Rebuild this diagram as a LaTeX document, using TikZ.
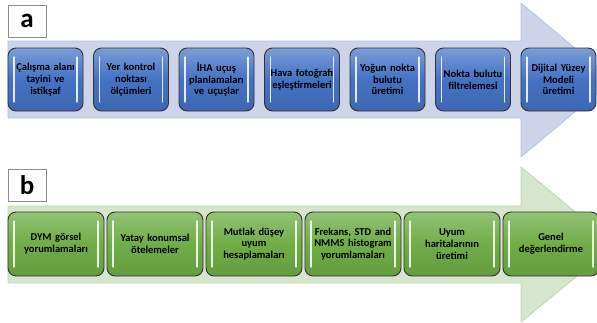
\documentclass[tikz,border=0pt]{standalone}
\usepackage{fontspec}
\setmainfont{Carlito}
\definecolor{arrowA}{RGB}{205,212,234}
\definecolor{arrowAline}{RGB}{180,194,230}
\definecolor{arrowB}{RGB}{214,230,206}
\definecolor{arrowBline}{RGB}{185,215,168}
\definecolor{boxBlue}{RGB}{68,114,196}
\definecolor{boxGreen}{RGB}{112,173,71}
\definecolor{boxEdge}{RGB}{50,50,50}
\tikzset{
	stepbox/.style={draw=boxEdge, line width=0.9pt, rounded corners=8pt, inner sep=0pt, align=center, font=\bfseries\fontsize{10.5}{11.8}\selectfont,
		path picture={
			\draw[white, line width=1.3pt, opacity=0.85, line cap=round] ([xshift=6pt,yshift=-9pt]path picture bounding box.north west) -- ([xshift=6pt,yshift=9pt]path picture bounding box.south west);
			\draw[white, line width=1.3pt, opacity=0.85, line cap=round] ([xshift=-6pt,yshift=-9pt]path picture bounding box.north east) -- ([xshift=-6pt,yshift=9pt]path picture bounding box.south east);
		}},
	bluebox/.style={stepbox, top color=boxBlue!70!white, bottom color=boxBlue!90!black, middle color=boxBlue, minimum width=75pt, minimum height=63pt, text width=73pt},
	greenbox/.style={stepbox, top color=boxGreen!75!white, bottom color=boxGreen!90!black, middle color=boxGreen, minimum width=96pt, minimum height=64pt, text width=94pt},
	tag/.style={draw=black!45, line width=0.8pt, fill=white, minimum width=38pt, minimum height=32pt, inner sep=0pt, font=\bfseries\fontsize{27}{27}\selectfont}
}
\begin{document}
\begin{tikzpicture}[x=1pt, y=-1pt]
	\useasboundingbox (0,0) rectangle (597,322);
	\clip (0,0) rectangle (597,322);
	% band arrows
	\draw[arrowAline, fill=arrowA, line width=0.8pt] (8,41) -- (521,41) -- (521,3) -- (613,80) -- (521,157) -- (521,118) -- (8,118) -- cycle;
	\draw[arrowBline, fill=arrowB, line width=0.8pt] (8,206) -- (521,206) -- (521,167) -- (615,245) -- (521,322) -- (521,283) -- (8,283) -- cycle;
	% tags
	\node[tag] (taga) at (27,21) {a};
	\node[tag] (tagb) at (27,185.5) {b};
	% a steps
	\node[bluebox] (a1) at (45.5,79.5) {Çalışma alanı\\tayini ve\\istikşaf};
	\node[bluebox] (a2) at (131,79.5) {Yer kontrol\\noktası\\ölçümleri};
	\node[bluebox] (a3) at (216.5,79.5) {İHA uçuş\\planlamaları\\ve uçuşlar};
	\node[bluebox] (a4) at (302,79.5) {Hava fotoğrafı\\eşleştirmeleri};
	\node[bluebox] (a5) at (387.5,79.5) {Yoğun nokta\\bulutu\\üretimi};
	\node[bluebox] (a6) at (473,79.5) {Nokta bulutu\\filtrelemesi};
	\node[bluebox] (a7) at (558.5,79.5) {Dijital Yüzey\\Modeli\\üretimi};
	% b steps
	\node[greenbox] (b1) at (56,244) {DYM görsel\\yorumlamaları};
	\node[greenbox] (b2) at (155,244) {Yatay konumsal\\ötelemeler};
	\node[greenbox] (b3) at (254,244) {Mutlak düşey\\uyum\\hesaplamaları};
	\node[greenbox] (b4) at (353,244) {Frekans, STD and\\NMMS histogram\\yorumlamaları};
	\node[greenbox] (b5) at (452,244) {Uyum\\haritalarının\\üretimi};
	\node[greenbox] (b6) at (551,244) {Genel\\değerlendirme};
\end{tikzpicture}
\end{document}
